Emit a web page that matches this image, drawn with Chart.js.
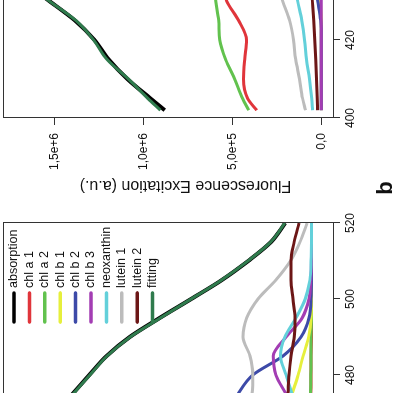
<!DOCTYPE html>
<html>
<head>
<meta charset="utf-8">
<script src="https://cdn.jsdelivr.net/npm/chart.js@4.4.1/dist/chart.umd.min.js"></script>
<style>
  html, body { margin: 0; padding: 0; width: 393px; height: 393px; overflow: hidden; background: #fff; }
  /* the whole figure is turned a quarter turn to the left, like the scan */
  #fig { position: absolute; left: 0; top: 0; width: 393px; height: 393px;
         transform: rotate(-90deg); transform-origin: 196.5px 196.5px; }
  #fig canvas { position: absolute; top: 0; }
  #panelA { left: -350px; }
  #panelB { left: 175px; }
</style>
</head>
<body>
<div id="fig">
  <canvas id="panelA" width="540" height="393"></canvas>
  <canvas id="panelB" width="588" height="393"></canvas>
</div>
<script>
const seriesNames = ['absorption', 'chl a 1', 'chl a 2', 'chl b 1', 'chl b 2', 'chl b 3',
                     'neoxanthin', 'lutein 1', 'lutein 2', 'fitting'];
const seriesColors = ['#000000', '#e0353b', '#62c24e', '#e6ef3c', '#3d4aa8', '#a33db3',
                      '#63d0da', '#bcbcbc', '#6c1616', '#2f7b4d'];

const wavelengthTicks = [400, 420, 440, 460, 480, 500, 520];

// panel a (only 470-520 nm is inside the picture)
const panelAWavelength = [470, 475, 480, 485, 490, 495, 500, 505, 510, 515, 520];
const aAbsorption = [0.826, 0.775, 0.720, 0.664, 0.589, 0.492, 0.390, 0.290, 0.205, 0.131, 0.085];
const aChlA1 = [0.003, 0.002, 0.001, 0.001, 0, 0, 0, 0, 0, 0, 0];
const aChlA2 = [0.004, 0.003, 0.002, 0.001, 0.001, 0, 0, 0, 0, 0, 0];
const aChlB1 = [0.082, 0.063, 0.043, 0.027, 0.009, 0.001, 0, 0, 0, 0, 0];
const aChlB2 = [0.272, 0.238, 0.190, 0.092, 0.034, 0.008, 0.001, 0, 0, 0, 0];
const aChlB3 = [0.050, 0.082, 0.115, 0.124, 0.082, 0.030, 0.008, 0.002, 0, 0, 0];
const aNeoxanthin = [0.045, 0.063, 0.082, 0.100, 0.086, 0.050, 0.020, 0.005, 0.001, 0, 0];
const aLutein1 = [0.205, 0.193, 0.190, 0.199, 0.222, 0.210, 0.173, 0.115, 0.068, 0.037, 0.014];
const aLutein2 = [0.080, 0.076, 0.073, 0.066, 0.056, 0.053, 0.060, 0.066, 0.066, 0.056, 0.040];
const aFitting = [0.828, 0.773, 0.718, 0.663, 0.588, 0.490, 0.390, 0.291, 0.206, 0.132, 0.086];

// panel b (only 402-433 nm is inside the picture)
const panelBWavelength = [402, 405, 410, 415, 420, 425, 430, 433];
const bAbsorption = [0.880e6, 0.960e6, 1.090e6, 1.195e6, 1.275e6, 1.385e6, 1.530e6, 1.620e6];
const bChlA1 = [0.363e6, 0.414e6, 0.437e6, 0.431e6, 0.420e6, 0.465e6, 0.532e6, 0.550e6];
const bChlA2 = [0.408e6, 0.442e6, 0.487e6, 0.538e6, 0.571e6, 0.577e6, 0.594e6, 0.600e6];
const bChlB1 = [0, 0, 0, 0, 0, 0, 0.005e6, 0.010e6];
const bChlB2 = [0, 0, 0, 0, 0, 0.003e6, 0.020e6, 0.030e6];
const bChlB3 = [0, 0, 0, 0, 0, 0, 0, 0];
const bNeoxanthin = [0.049e6, 0.054e6, 0.066e6, 0.083e6, 0.094e6, 0.110e6, 0.133e6, 0.145e6];
const bLutein1 = [0.088e6, 0.105e6, 0.122e6, 0.144e6, 0.156e6, 0.178e6, 0.217e6, 0.235e6];
const bLutein2 = [0.021e6, 0.023e6, 0.027e6, 0.031e6, 0.036e6, 0.042e6, 0.050e6, 0.055e6];
const bFitting = [0.905e6, 0.975e6, 1.085e6, 1.205e6, 1.280e6, 1.380e6, 1.530e6, 1.620e6];

const panelBTicks = [0, 5e5, 1e6, 1.5e6];
const panelBTickLabels = ['0,0', '5,0e+5', '1,0e+6', '1,5e+6'];

const FONT = '"Liberation Sans", Arial, sans-serif';
Chart.defaults.font.family = FONT;
Chart.defaults.font.size = 12;
Chart.defaults.color = '#111';

function makeDatasets(xs, series) {
  return series.map((vals, i) => ({
    label: seriesNames[i],
    data: xs.map((x, k) => ({ x: x, y: vals[k] })),
    borderColor: seriesColors[i],
    borderWidth: i === 0 ? 4 : 3,
    pointRadius: 0,
    cubicInterpolationMode: 'monotone',
    order: series.length - i,
  }));
}

function fixSize(prop, size) {
  return function (scale) {
    scale[prop] = size;
    scale.paddingTop = scale.paddingBottom = scale.paddingLeft = scale.paddingRight = 0;
  };
}

const axisGrid = { drawOnChartArea: false, drawTicks: true, tickLength: 7, color: '#333' };
const axisBorder = { display: true, color: '#333', width: 1 };

function wavelengthAxis(height) {
  return {
    type: 'linear', min: 400, max: 520,
    grid: axisGrid, border: axisBorder,
    afterBuildTicks: s => { s.ticks = wavelengthTicks.map(v => ({ value: v })); },
    afterFit: fixSize('height', height),
    ticks: { padding: 3, maxRotation: 0, autoSkip: false, callback: v => String(v) },
  };
}

// full box round the plot, as R draws it
const boxPlugin = {
  id: 'plotBox',
  afterDraw(chart) {
    const { ctx, chartArea: a } = chart;
    ctx.save();
    ctx.strokeStyle = '#333';
    ctx.lineWidth = 1;
    ctx.strokeRect(Math.round(a.left) + 0.5, Math.round(a.top) + 0.5,
                   Math.round(a.width), Math.round(a.height));
    ctx.restore();
  }
};

// legend inside the top right corner of panel a
const insideLegend = {
  id: 'insideLegend',
  afterDraw(chart) {
    const { ctx, chartArea: a } = chart;
    ctx.save();
    ctx.font = '12.5px ' + FONT;
    ctx.textAlign = 'left';
    ctx.textBaseline = 'middle';
    ctx.lineCap = 'round';
    chart.data.datasets.forEach((ds, i) => {
      const y = a.top + 11 + i * 15.4;
      ctx.strokeStyle = ds.borderColor;
      ctx.lineWidth = 3.5;
      ctx.beginPath();
      ctx.moveTo(a.right - 99, y);
      ctx.lineTo(a.right - 70, y);
      ctx.stroke();
      ctx.fillStyle = '#111';
      ctx.fillText(ds.label, a.right - 65, y);
    });
    ctx.restore();
  }
};

// y title and panel letter of panel b
const panelText = {
  id: 'panelText',
  afterDraw(chart, args, opts) {
    const { ctx, chartArea: a } = chart;
    ctx.save();
    ctx.fillStyle = '#111';
    ctx.textAlign = 'center';
    ctx.textBaseline = 'middle';
    ctx.font = '16px ' + FONT;
    ctx.translate(a.left - 67, a.top + 182.5);
    ctx.rotate(-Math.PI / 2);
    ctx.fillText(opts.title, 0, 0);
    ctx.restore();
    ctx.save();
    ctx.fillStyle = '#111';
    ctx.textAlign = 'center';
    ctx.textBaseline = 'middle';
    ctx.font = 'bold 22px ' + FONT;
    ctx.fillText(opts.letter, a.left - 70, a.top + 383);
    ctx.restore();
  }
};

new Chart(document.getElementById('panelA'), {
  type: 'line',
  data: {
    datasets: makeDatasets(panelAWavelength, [aAbsorption, aChlA1, aChlA2, aChlB1, aChlB2,
      aChlB3, aNeoxanthin, aLutein1, aLutein2, aFitting])
  },
  options: {
    responsive: false,
    animation: false,
    events: [],
    layout: { padding: { top: 3, right: 20, bottom: 0, left: 0 } },
    plugins: { legend: { display: false }, tooltip: { enabled: false } },
    scales: {
      x: wavelengthAxis(60),
      y: {
        min: -0.07, max: 1.0,
        grid: axisGrid, border: axisBorder,
        afterFit: fixSize('width', 64),
        ticks: { padding: 8, stepSize: 0.2 },
      }
    }
  },
  plugins: [boxPlugin, insideLegend]
});

new Chart(document.getElementById('panelB'), {
  type: 'line',
  data: {
    datasets: makeDatasets(panelBWavelength, [bAbsorption, bChlA1, bChlA2, bChlB1, bChlB2,
      bChlB3, bNeoxanthin, bLutein1, bLutein2, bFitting])
  },
  options: {
    responsive: false,
    animation: false,
    events: [],
    layout: { padding: { top: 3, right: 20, bottom: 0, left: 0 } },
    plugins: {
      legend: { display: false }, tooltip: { enabled: false },
      panelText: { title: 'Fluorescence Excitation (a.u.)', letter: 'b' }
    },
    scales: {
      x: wavelengthAxis(60),
      y: {
        min: -0.066e6, max: 1.79e6,
        grid: axisGrid, border: axisBorder,
        afterBuildTicks: s => { s.ticks = panelBTicks.map(v => ({ value: v })); },
        afterFit: fixSize('width', 100),
        ticks: { padding: 8, callback: (v, i) => panelBTickLabels[i] },
      }
    }
  },
  plugins: [boxPlugin, panelText]
});
</script>
</body>
</html>
